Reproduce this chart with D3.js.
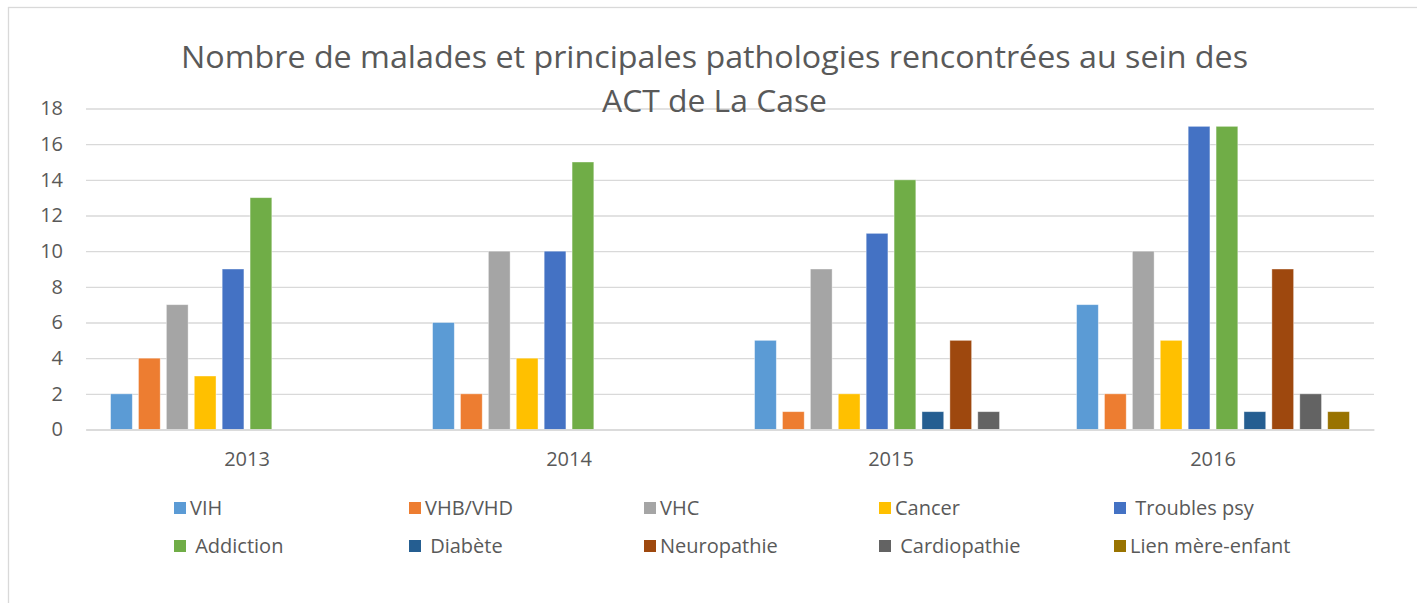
<!DOCTYPE html>
<html>
<head>
<meta charset="utf-8">
<script src="https://cdn.jsdelivr.net/npm/d3@7"></script>
<style>
  html, body { margin: 0; padding: 0; background: #ffffff; }
  svg { display: block; }
  text { font-family: "Open Sans", "Noto Sans", sans-serif; fill: #595959; }
</style>
</head>
<body>
<svg id="chart" width="1417" height="603"></svg>
<script>
// ---- data ----
const years = ["2013", "2014", "2015", "2016"];
const seriesNames = ["VIH", "VHB/VHD", "VHC", "Cancer", "Troubles psy",
                     "Addiction", "Diabète", "Neuropathie", "Cardiopathie", "Lien mère-enfant"];
const legendLabels = ["VIH", "VHB/VHD", "VHC", "Cancer", " Troubles psy",
                      " Addiction", " Diabète", "Neuropathie", " Cardiopathie", "Lien mère-enfant"];
const seriesColors = ["#5B9BD5", "#ED7D31", "#A5A5A5", "#FFC000", "#4472C4",
                      "#70AD47", "#255E91", "#9E480E", "#636363", "#997300"];
const vih          = [2, 6, 5, 7];
const vhbVhd       = [4, 2, 1, 2];
const vhc          = [7, 10, 9, 10];
const cancer       = [3, 4, 2, 5];
const troublesPsy  = [9, 10, 11, 17];
const addiction    = [13, 15, 14, 17];
const diabete      = [0, 0, 1, 1];
const neuropathie  = [0, 0, 5, 9];
const cardiopathie = [0, 0, 1, 2];
const lienMere     = [0, 0, 0, 1];
const yTicks = [0, 2, 4, 6, 8, 10, 12, 14, 16, 18];
const titleLines = ["Nombre de malades et principales pathologies rencontrées au sein des", "ACT de La Case"];

const seriesValues = [vih, vhbVhd, vhc, cancer, troublesPsy, addiction, diabete, neuropathie, cardiopathie, lienMere];
const table = years.map((yr, i) => ({
  year: yr,
  values: seriesNames.map((s, j) => ({ key: s, value: seriesValues[j][i], color: seriesColors[j] }))
}));

const svg = d3.select("#chart");

// frame
svg.append("rect")
  .attr("x", 8.5).attr("y", 7.5).attr("width", 1430).attr("height", 620)
  .attr("fill", "#fff").attr("stroke", "#d9d9d9").attr("stroke-width", 1.3);

const plotL = 86, plotR = 1374, plotT = 108.5, plotB = 429.5;

const x0 = d3.scaleBand().domain(years).range([plotL, plotR]).paddingInner(0).paddingOuter(0);
const x1 = d3.scaleBand().domain(seriesNames).range([0, x0.bandwidth()]).paddingInner(0.22).paddingOuter(0.88);
const y = d3.scaleLinear().domain([0, 18]).range([plotB, plotT]);

// y axis + gridlines
const yAxis = svg.append("g")
  .attr("transform", `translate(${plotL},0)`)
  .call(d3.axisLeft(y).tickValues(yTicks).tickSize(-(plotR - plotL)).tickPadding(23));
yAxis.select(".domain").remove();
yAxis.selectAll(".tick line").attr("stroke", "#d9d9d9").attr("stroke-width", 1.3);
yAxis.selectAll(".tick text").style("font-size", "20px").attr("fill", "#595959");

// title
svg.append("g").selectAll("text").data(titleLines).join("text")
  .attr("x", 714.5)
  .attr("y", (d, i) => i === 0 ? 68 : 112)
  .attr("text-anchor", "middle")
  .attr("textLength", (d, i) => i === 0 ? 1067 : 225)
  .attr("lengthAdjust", "spacingAndGlyphs")
  .style("font-size", "31px")
  .text(d => d);

// bars
const groups = svg.append("g").selectAll("g").data(table).join("g")
  .attr("transform", d => `translate(${x0(d.year)},0)`);
groups.selectAll("rect").data(d => d.values.filter(v => v.value > 0)).join("rect")
  .attr("x", d => x1(d.key))
  .attr("width", x1.bandwidth())
  .attr("y", d => y(d.value))
  .attr("height", d => y(0) - y(d.value))
  .attr("fill", d => d.color)
  .attr("stroke", "#ffffff")
  .attr("stroke-opacity", 0.5)
  .attr("stroke-width", 0.8);

// x axis
const xAxis = svg.append("g")
  .attr("transform", `translate(0,${plotB})`)
  .call(d3.axisBottom(x0).tickSize(0).tickPadding(22));
xAxis.select(".domain").attr("stroke", "#d9d9d9").attr("stroke-width", 1.5);
xAxis.selectAll(".tick text").style("font-size", "20px").attr("fill", "#595959");

// legend
const colX = d3.scaleBand().domain(d3.range(5)).range([174, 174 + 5 * 235]);
const legend = svg.append("g").selectAll("g").data(legendLabels).join("g")
  .attr("transform", (d, i) => `translate(${colX(i % 5)},${i < 5 ? 508 : 546})`);
legend.append("rect")
  .attr("x", 0).attr("y", -6).attr("width", 12).attr("height", 12)
  .attr("fill", (d, i) => seriesColors[i]);
legend.append("text")
  .attr("x", 16).attr("y", 0).attr("dy", "0.35em")
  .style("font-size", "20px")
  .style("white-space", "pre")
  .attr("xml:space", "preserve")
  .text(d => d);
</script>
</body>
</html>
